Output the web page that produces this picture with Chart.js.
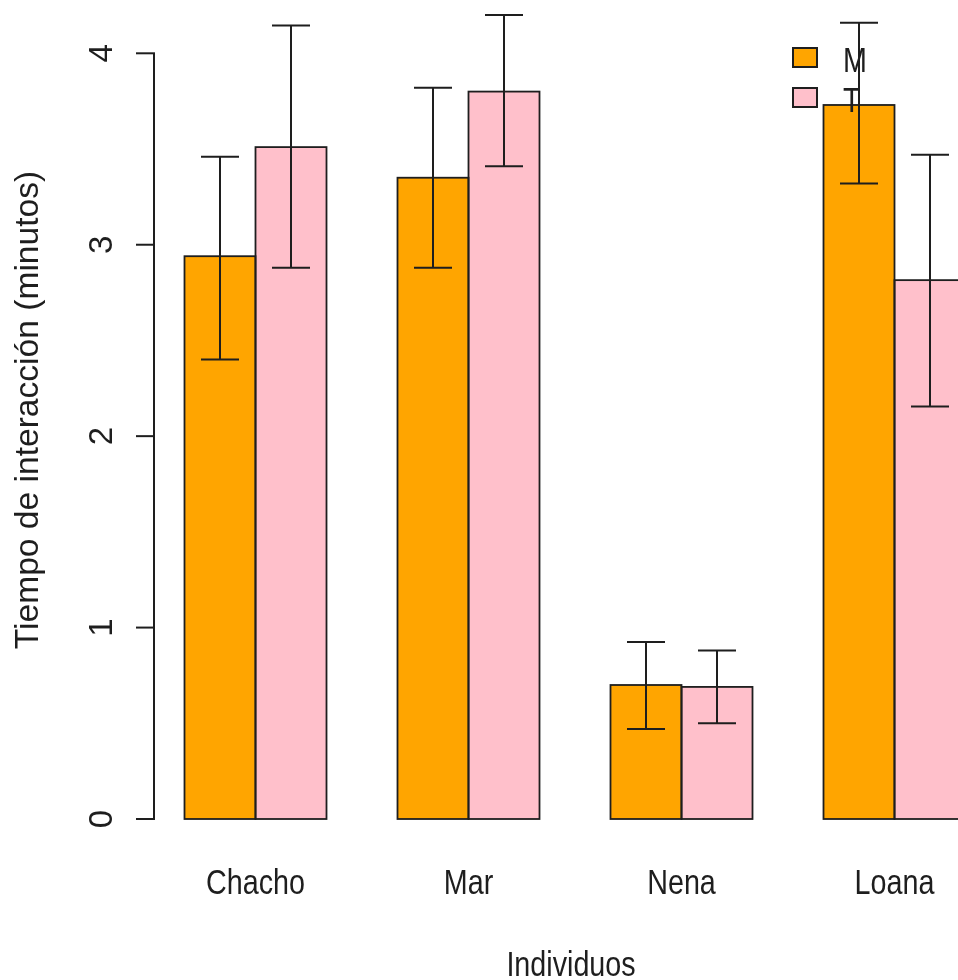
<!DOCTYPE html>
<html>
<head>
<meta charset="utf-8">
<script src="https://cdn.jsdelivr.net/npm/chart.js@4/dist/chart.umd.min.js"></script>
<style>
  html, body { margin: 0; padding: 0; background: #ffffff; overflow: hidden; }
  #wrap { width: 958px; height: 980px; overflow: hidden; position: relative; }
  canvas { display: block; position: absolute; left: 0; top: 0; }
</style>
</head>
<body>
<div id="wrap"><canvas id="c" width="1010" height="980"></canvas></div>
<script>
// ---- data ----
const categories = ['Chacho', 'Mar', 'Nena', 'Loana'];
const seriesLabels = ['M', 'T'];
const valuesM = [2.94, 3.35, 0.70, 3.73];
const valuesT = [3.51, 3.80, 0.69, 2.815];
const lowerM = [2.40, 2.88, 0.47, 3.32];
const upperM = [3.46, 3.82, 0.925, 4.16];
const lowerT = [2.88, 3.41, 0.50, 2.155];
const upperT = [4.145, 4.20, 0.88, 3.47];
const yTickValues = [0, 1, 2, 3, 4];
const yTickLabels = ['0', '1', '2', '3', '4'];
const yTitle = 'Tiempo de interacción (minutos)';
const xTitle = 'Individuos';

const colorM = '#FFA500';
const colorT = '#FFC0CB';
const ink = '#1e1e1e';

const errorBars = [
  { lower: lowerM, upper: upperM },
  { lower: lowerT, upper: upperT }
];

const narrowText = (ctx, text, x, y, align, size) => {
  ctx.save();
  ctx.font = size + 'px "Liberation Sans", Arial, sans-serif';
  ctx.fillStyle = ink;
  ctx.textAlign = align;
  ctx.textBaseline = 'alphabetic';
  ctx.translate(x, y);
  ctx.scale(0.82, 1);
  ctx.fillText(text, 0, 0);
  ctx.restore();
};

const decorPlugin = {
  id: 'decor',
  beforeDatasetsDraw(chart) {
    const ctx = chart.ctx;
    const y = chart.scales.y;
    const x = chart.scales.x;
    const axisX = 154;
    ctx.save();
    ctx.strokeStyle = ink;
    ctx.lineWidth = 2;
    ctx.beginPath();
    ctx.moveTo(axisX, y.getPixelForValue(yTickValues[0]));
    ctx.lineTo(axisX, y.getPixelForValue(yTickValues[yTickValues.length - 1]));
    ctx.stroke();
    yTickValues.forEach((v, i) => {
      const py = y.getPixelForValue(v);
      ctx.beginPath();
      ctx.moveTo(axisX + 1, py);
      ctx.lineTo(136, py);
      ctx.stroke();
      ctx.save();
      ctx.translate(112, py);
      ctx.rotate(-Math.PI / 2);
      ctx.font = '33px "Liberation Sans", Arial, sans-serif';
      ctx.fillStyle = ink;
      ctx.textAlign = 'center';
      ctx.textBaseline = 'alphabetic';
      ctx.fillText(yTickLabels[i], 0, 0);
      ctx.restore();
    });
    // y title
    ctx.save();
    ctx.translate(38, 410);
    ctx.rotate(-Math.PI / 2);
    ctx.font = '33.6px "Liberation Sans", Arial, sans-serif';
    ctx.fillStyle = ink;
    ctx.textAlign = 'center';
    ctx.textBaseline = 'alphabetic';
    ctx.fillText(yTitle, 0, 0);
    ctx.restore();
    // x category labels
    categories.forEach((c, i) => {
      narrowText(ctx, c, x.getPixelForValue(i), 894, 'center', 35);
    });
    narrowText(ctx, xTitle, 571, 976, 'center', 35);
    ctx.restore();
  },
  afterDatasetsDraw(chart) {
    const ctx = chart.ctx;
    const y = chart.scales.y;
    // bar outlines (centred on the bar edges)
    ctx.save();
    ctx.strokeStyle = ink;
    ctx.lineWidth = 1.8;
    chart.data.datasets.forEach((ds, i) => {
      chart.getDatasetMeta(i).data.forEach(bar => {
        const p = bar.getProps(['x', 'y', 'base', 'width']);
        ctx.strokeRect(p.x - p.width / 2, p.y, p.width, p.base - p.y);
      });
    });
    ctx.restore();
    // legend (no frame)
    ctx.save();
    chart.data.datasets.forEach((ds, i) => {
      const top = 48 + i * 40;
      ctx.fillStyle = ds.backgroundColor;
      ctx.fillRect(793, top, 24, 19);
      ctx.strokeStyle = ink;
      ctx.lineWidth = 2;
      ctx.strokeRect(793, top, 24, 19);
      narrowText(ctx, ds.label, 843, 72 + i * 40, 'left', 35);
    });
    ctx.restore();
    // error bars
    ctx.save();
    ctx.strokeStyle = ink;
    ctx.lineWidth = 2;
    chart.data.datasets.forEach((ds, i) => {
      const meta = chart.getDatasetMeta(i);
      const eb = errorBars[i];
      meta.data.forEach((bar, j) => {
        const px = bar.x;
        const hi = y.getPixelForValue(eb.upper[j]);
        const lo = y.getPixelForValue(eb.lower[j]);
        ctx.beginPath();
        ctx.moveTo(px, hi); ctx.lineTo(px, lo);
        ctx.moveTo(px - 19, hi); ctx.lineTo(px + 19, hi);
        ctx.moveTo(px - 19, lo); ctx.lineTo(px + 19, lo);
        ctx.stroke();
      });
    });
    ctx.restore();
  }
};

new Chart(document.getElementById('c'), {
  type: 'bar',
  data: {
    labels: categories,
    datasets: [
      { label: seriesLabels[0], data: valuesM, backgroundColor: colorM, borderWidth: 0 },
      { label: seriesLabels[1], data: valuesT, backgroundColor: colorT, borderWidth: 0 }
    ]
  },
  options: {
    responsive: false,
    animation: false,
    devicePixelRatio: 1,
    layout: { padding: { left: 149, right: 9, top: 2, bottom: 161 } },
    datasets: { bar: { categoryPercentage: 2 / 3, barPercentage: 1 } },
    scales: {
      x: { type: 'category', display: false, offset: true, grid: { display: false } },
      y: { type: 'linear', display: false, min: 0, max: 4.268 }
    },
    plugins: { legend: { display: false }, tooltip: { enabled: false }, title: { display: false } }
  },
  plugins: [decorPlugin]
});
</script>
</body>
</html>
